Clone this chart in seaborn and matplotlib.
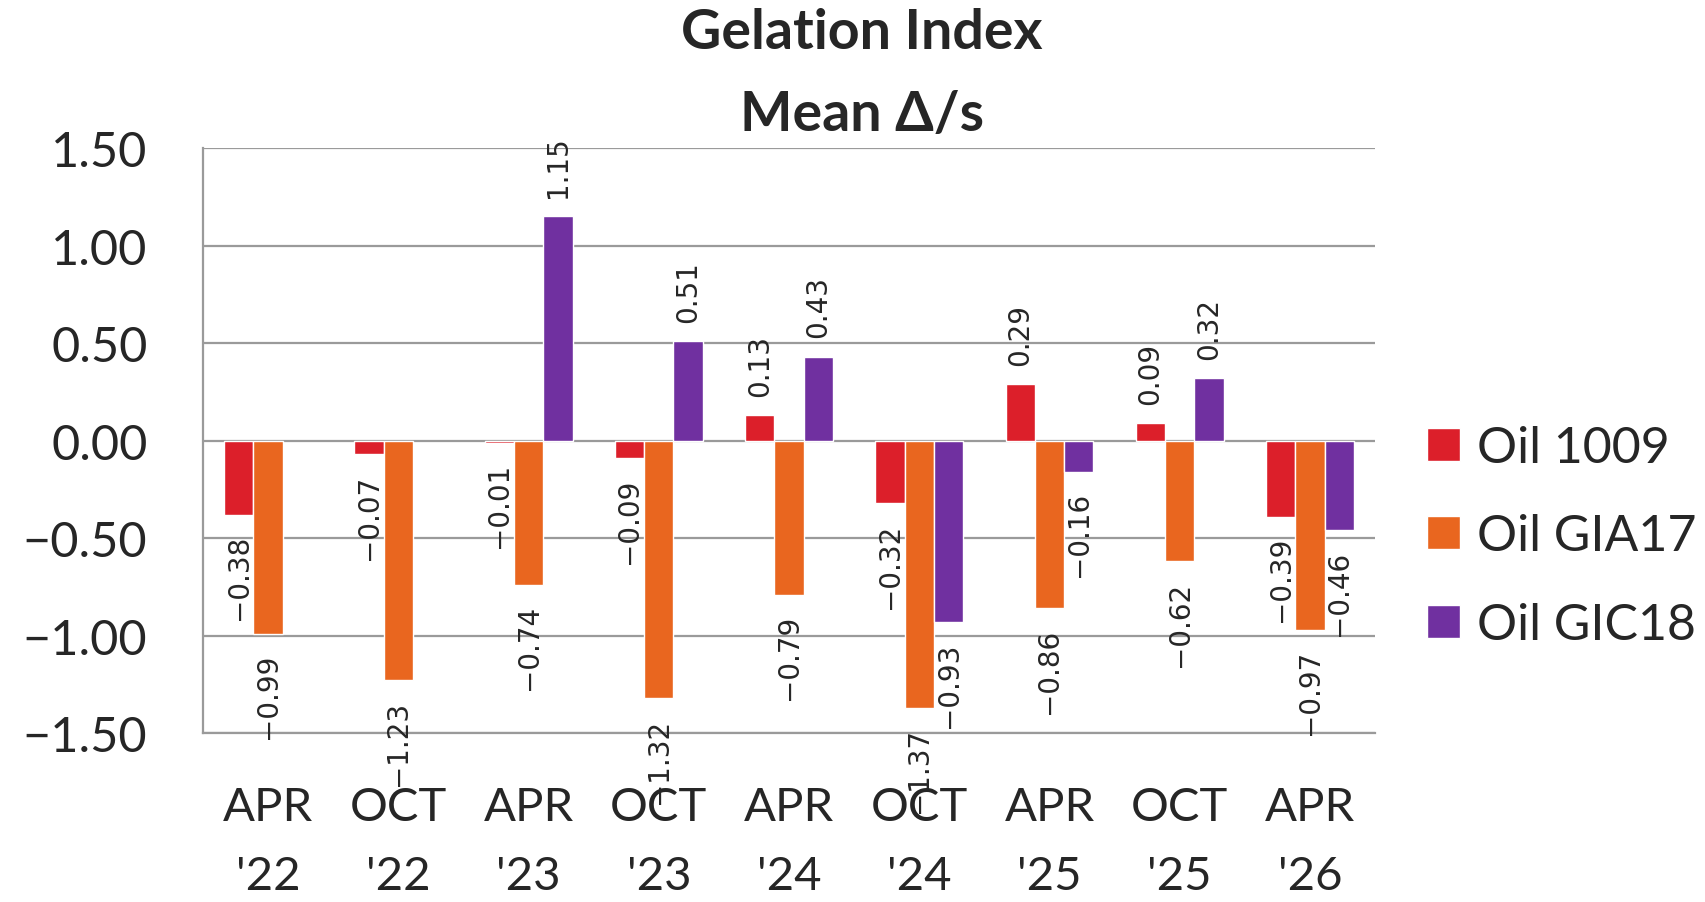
import matplotlib
matplotlib.use("Agg")
import matplotlib.pyplot as plt
import seaborn as sns
import pandas as pd
import numpy as np

periods = ["APR\n'22", "OCT\n'22", "APR\n'23", "OCT\n'23", "APR\n'24",
           "OCT\n'24", "APR\n'25", "OCT\n'25", "APR\n'26"]
series_names = ["Oil 1009", "Oil GIA17", "Oil GIC18"]
oil_1009 = [-0.38, -0.07, -0.01, -0.09, 0.13, -0.32, 0.29, 0.09, -0.39]
oil_gia17 = [-0.99, -1.23, -0.74, -1.32, -0.79, -1.37, -0.86, -0.62, -0.97]
oil_gic18 = [np.nan, np.nan, 1.15, 0.51, 0.43, -0.93, -0.16, 0.32, -0.46]
colors = ["#DC1F2A", "#E9661F", "#7030A0"]
yticks = [-1.5, -1.0, -0.5, 0.0, 0.5, 1.0, 1.5]

rows = []
for name, vals in zip(series_names, [oil_1009, oil_gia17, oil_gic18]):
    for p, v in zip(periods, vals):
        rows.append({"period": p, "value": v, "series": name})
df = pd.DataFrame(rows)

sns.set_theme(style="white")
plt.rcParams['font.family'] = ['Lato', 'DejaVu Sans']

fig = plt.figure(figsize=(17.06, 9.03), dpi=100)
ax = fig.add_axes([0.119, 0.187, 0.687, 0.648])

sns.barplot(data=df, x="period", y="value", hue="series", order=periods,
            hue_order=series_names, palette=colors, width=0.675,
            saturation=1, ax=ax, errorbar=None, legend=True)

ax.set_ylim(-1.5, 1.5)
ax.set_xlim(-0.5, len(periods) - 0.5)
ax.set_yticks(yticks)
ax.set_yticklabels([f"{t:.2f}".replace("-", "\u2212") for t in yticks])
ax.set_xlabel("")
ax.set_ylabel("")
ax.grid(axis="y", color="#9a9a9a", linewidth=1.6)
ax.set_axisbelow(True)
for s in ["top", "right"]:
    ax.spines[s].set_visible(False)
ax.spines["left"].set_color("#9a9a9a")
ax.spines["left"].set_linewidth(1.6)
ax.spines["bottom"].set_color("#9a9a9a")
ax.spines["bottom"].set_linewidth(1.6)
ax.tick_params(axis="y", length=0, pad=40, labelsize=35)
ax.tick_params(axis="x", length=0, pad=38, labelsize=34)
for t in ax.get_xticklabels():
    t.set_linespacing(1.8)

for cont in ax.containers:
    ax.bar_label(cont, fmt=lambda v: f"{v:.2f}".replace("-", "\u2212"),
                 rotation=90, padding=14, fontsize=20,
                 family="DejaVu Sans", clip_on=False)

leg = ax.legend(loc="center left", bbox_to_anchor=(0.8365, 0.405),
                bbox_transform=fig.transFigure, frameon=False,
                fontsize=36, handlelength=0.65, handleheight=0.65,
                handletextpad=0.35, labelspacing=0.85, borderpad=0,
                borderaxespad=0)

fig.text(0.505, 0.963, "Gelation Index", ha="center", va="center",
         fontsize=40, fontweight="bold")
fig.text(0.505, 0.873, "Mean \u0394/s", ha="center", va="center",
         fontsize=40, fontweight="bold")

fig.savefig("out.png", dpi=100)
